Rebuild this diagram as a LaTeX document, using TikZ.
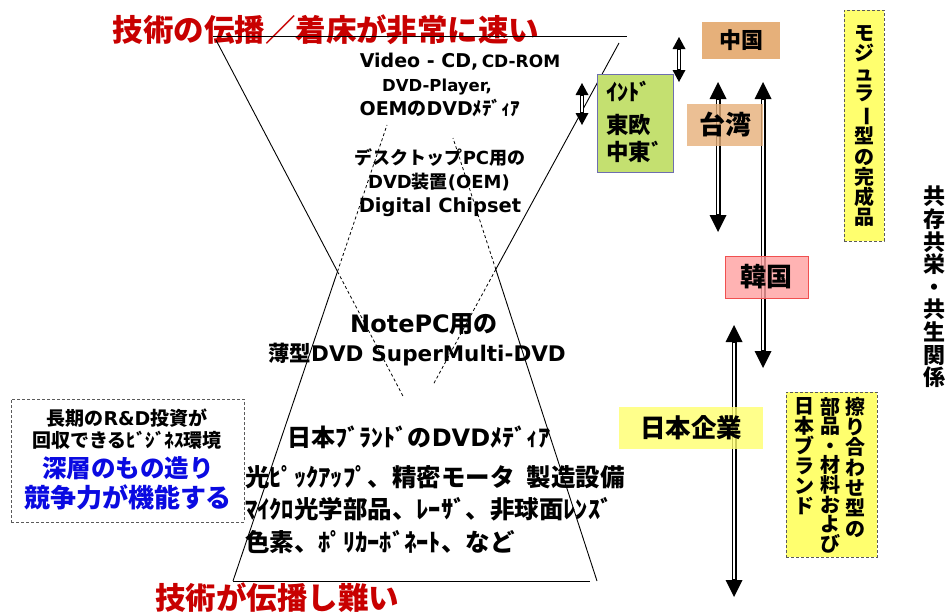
\documentclass[tikz,border=0pt]{standalone}
\usepackage{fontspec}
\usepackage{graphicx}
\setmainfont{DejaVu Sans}
\newfontfamily\jp{Noto Sans CJK JP}
\usetikzlibrary{arrows.meta}
\definecolor{redt}{RGB}{200,0,0}
\definecolor{bluet}{RGB}{10,10,225}
\definecolor{tanb}{RGB}{230,176,122}
\definecolor{greenb}{RGB}{196,224,112}
\definecolor{greenbd}{RGB}{110,110,175}
\definecolor{pinkb}{RGB}{255,160,160}
\definecolor{pinkbd}{RGB}{240,80,80}
\definecolor{yellb}{RGB}{255,255,110}
\definecolor{dashg}{RGB}{90,90,90}
\newcommand\fsz[1]{\fontsize{#1}{#1}\selectfont}
\newcommand\JP[1]{{\jp #1}}
\newcommand\tatebar{\rotatebox[origin=c]{-90}{ー}}
\tikzset{
  txt/.style={inner sep=0pt, font=\bfseries},
  redtxt/.style={inner sep=0pt, text=redt, font=\jp\bfseries\fsz{30.5}},
  solidln/.style={line width=0.9pt},
  dashln/.style={line width=0.8pt, dash pattern=on 3pt off 2.5pt},
  bigarr/.style={line width=5pt, {Triangle[width=17pt,length=17pt,line width=0pt]}-{Triangle[width=17pt,length=17pt,line width=0pt]}},
  bigcore/.style={white, line width=1.3pt, shorten <=18pt, shorten >=18pt},
  smallarr/.style={line width=3.6pt, {Triangle[width=13pt,length=12pt,line width=0pt]}-{Triangle[width=13pt,length=12pt,line width=0pt]}},
  smallcore/.style={white, line width=1.2pt, shorten <=13pt, shorten >=13pt},
  dbox/.style={draw=dashg, line width=0.8pt, dash pattern=on 3pt off 2pt},
  cbox/.style={inner sep=0pt, font=\jp\bfseries, text opacity=1},
  vtext/.style={inner sep=0pt, align=center, anchor=north},
}
\begin{document}
\begin{tikzpicture}[x=1pt,y=-1pt]
\useasboundingbox[fill=white] (0,0) rectangle (946,613);

% ---- red headings
\node[redtxt] (topred) at (326,30) {技術の伝播／着床が非常に速い};
\node[redtxt] (botred) at (277,598) {技術が伝播し難い};

% ---- centre texts
\node[txt] (vcd) at (460,62) {{\fsz{19}Video - CD,} {\fsz{17}CD-ROM}};
\node[txt, font=\bfseries\fsz{16.5}] (dvdp) at (437,87) {DVD-Player,};
\node[txt, font=\bfseries\fsz{19}] (oem) at (440,108) {OEM\JP{の}DVD\JP{ﾒﾃﾞｨｱ}};
\node[txt, font=\bfseries\fsz{18}] (desk) at (440,158) {\JP{デスクトップ}PC\JP{用の}};
\node[txt, font=\bfseries\fsz{18}] (dvdo) at (439,182) {DVD\JP{装置}(OEM)};
\node[txt, font=\bfseries\fsz{19.5}] (chip) at (440,207) {Digital Chipset};
\node[txt, font=\bfseries\fsz{24}] (note) at (424,324) {NotePC\JP{用の}};
\node[txt, font=\bfseries\fsz{21.5}] (thin) at (417,355) {\JP{薄型}DVD\hspace{8pt}SuperMulti-DVD};
\node[txt, font=\bfseries\fsz{24}] (jbm) at (419,437) {\JP{日本ﾌﾞﾗﾝﾄﾞの}DVD\JP{ﾒﾃﾞｨｱ}};
\node[txt, font=\jp\bfseries\fsz{24.5}, anchor=west] (l1) at (245,477) {光ﾋﾟｯｸｱｯﾌﾟ、精密モータ\hspace{12pt}製造設備};
\node[txt, font=\jp\bfseries\fsz{24.5}, anchor=west] (l2) at (245,509) {ﾏｲｸﾛ光学部品、ﾚｰｻﾞ、非球面ﾚﾝｽﾞ};
\node[txt, font=\jp\bfseries\fsz{24.5}, anchor=west] (l3) at (245,542) {色素、ﾎﾟﾘｶｰﾎﾞﾈｰﾄ、など};

% ---- hourglass lines
\coordinate (tl) at (213,36);  \coordinate (tr) at (627,36);
\coordinate (tla) at (216,40); \coordinate (tra) at (619,43);
\coordinate (tle) at (404,398); \coordinate (tre) at (433,385);
\coordinate (bl) at (233,581); \coordinate (br) at (590,581);
\coordinate (bra) at (597,581);
\coordinate (ble) at (387,125); \coordinate (bre) at (453,138);
\coordinate (xl) at (337.5,271.5); \coordinate (xr) at (495.8,269.4);
\draw[solidln] (tl) -- (tr);
\draw[solidln] (tla) -- (xl);
\draw[dashln] (xl) -- (tle);
\draw[solidln] (tra) -- (xr);
\draw[dashln] (xr) -- (tre);
\draw[solidln] (bl) -- (br);
\draw[solidln] (bl) -- (xl);
\draw[dashln] (xl) -- (ble);
\draw[solidln] (bra) -- (xr);
\draw[dashln] (xr) -- (bre);

% ---- left box
\node[dbox, minimum width=233pt, minimum height=123pt, inner sep=0pt] (lbox) at (127.5,460.5) {};
\node[txt, font=\bfseries\fsz{19}] (lb1) at (127,418) {\JP{長期の}R\&D\JP{投資が}};
\node[txt, font=\jp\bfseries\fsz{19}] (lb2) at (127,440) {回収できるﾋﾞｼﾞﾈｽ環境};
\node[txt, font=\jp\bfseries\fsz{24.5}, text=bluet] (lb3) at (128,468) {深層のもの造り};
\node[txt, font=\jp\bfseries\fsz{26}, text=bluet] (lb4) at (128,497) {競争力が機能する};

% ---- arrows
\coordinate (a1t) at (718,82);  \coordinate (a1b) at (718,232);
\coordinate (a2t) at (763,82);  \coordinate (a2b) at (763,368);
\coordinate (a3t) at (734,325); \coordinate (a3b) at (734,597);
\coordinate (s1t) at (679,37);  \coordinate (s1b) at (679,82);
\coordinate (s2t) at (582,83);  \coordinate (s2b) at (582,125);
\draw[bigarr] (a1t) -- (a1b);
\draw[bigcore] (a1t) -- (a1b);
\draw[bigarr] (a2t) -- (a2b);
\draw[bigcore] (a2t) -- (a2b);
\draw[bigarr] (a3t) -- (a3b);
\draw[bigcore] (a3t) -- (a3b);
\draw[smallarr] (s1t) -- (s1b);
\draw[smallcore] (s1t) -- (s1b);
\draw[smallarr] (s2t) -- (s2b);
\draw[smallcore] (s2t) -- (s2b);

% ---- country boxes
\node[cbox, fill=tanb, minimum width=78pt, minimum height=37pt, font=\jp\bfseries\fsz{22}] (china) at (741,40.5) {中国};
\node[cbox, fill=tanb, fill opacity=0.8, minimum width=76pt, minimum height=42pt, font=\jp\bfseries\fsz{26}] (taiwan) at (725,125) {台湾};
\node[cbox, draw=greenbd, line width=0.9pt, fill=greenb, minimum width=76pt, minimum height=98pt] (india) at (635,123) {};
\node[txt, font=\jp\bfseries\fsz{22.5}, anchor=west] (in1) at (606,91) {ｲﾝﾄﾞ};
\node[txt, font=\jp\bfseries\fsz{22.5}, anchor=west] (in2) at (606,125) {東欧};
\node[txt, font=\jp\bfseries\fsz{22.5}, anchor=west] (in3) at (606,152) {中東ﾞ};
\node[cbox, draw=pinkbd, line width=0.9pt, fill=pinkb, fill opacity=0.8, minimum width=83pt, minimum height=42pt, font=\jp\bfseries\fsz{26}] (korea) at (766.5,277) {韓国};
\node[cbox, fill=yellb, fill opacity=0.8, minimum width=144pt, minimum height=42pt, font=\jp\bfseries\fsz{25.5}] (jpco) at (691,428) {日本企業};

% ---- vertical yellow boxes
\node[dbox, fill=yellb, minimum width=40pt, minimum height=231pt, inner sep=0pt] (modbox) at (864,125.5) {};
\node[vtext, font=\jp\bfseries\fontsize{20}{20.2}\selectfont] (modtxt) at (864,25) {モ\\ジ\\ュ\\ラ\\\tatebar\\型\\の\\完\\成\\品};
\node[dbox, fill=yellb, minimum width=91pt, minimum height=165pt, inner sep=0pt] (surbox) at (831.5,474.5) {};
\node[vtext, font=\jp\bfseries\fontsize{20}{20.3}\selectfont] (sur1) at (855,397) {擦\\り\\合\\わ\\せ\\型\\の};
\node[vtext, font=\jp\bfseries\fontsize{20}{19.6}\selectfont] (sur2) at (830,397) {部\\品\\・\\材\\料\\お\\よ\\び};
\node[vtext, font=\jp\bfseries\fontsize{20}{20}\selectfont] (sur3) at (804,397) {日\\本\\ブ\\ラ\\ン\\ド};

% ---- coexistence label
\node[vtext, font=\jp\bfseries\fontsize{22}{22.6}\selectfont] (kyo) at (934,186) {共\\存\\共\\栄\\・\\共\\生\\関\\係};
\end{tikzpicture}
\end{document}
